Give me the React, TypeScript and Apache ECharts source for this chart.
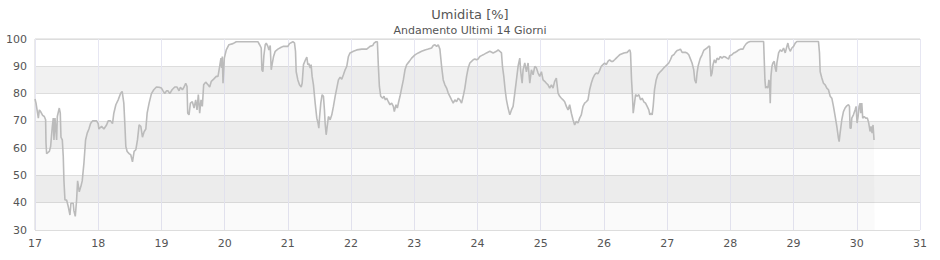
import React, { useEffect, useRef } from "react";
import * as echarts from "echarts";

const titleText = "Umidita [%]";
const subtitleText = "Andamento Ultimi 14 Giorni";
const xTicks = [17, 31];
const yTicks = [30, 100];

const days = [
  17.000, 17.016, 17.037, 17.053, 17.068, 17.089, 17.121, 17.147, 17.168, 17.174,
  17.184, 17.226, 17.247, 17.274, 17.289, 17.300, 17.316, 17.342, 17.353, 17.384,
  17.400, 17.411, 17.432, 17.447, 17.458, 17.474, 17.500, 17.526, 17.553, 17.568,
  17.605, 17.616, 17.637, 17.658, 17.674, 17.700, 17.726, 17.747, 17.774, 17.800,
  17.826, 17.853, 17.879, 17.911, 17.974, 18.000, 18.011, 18.053, 18.089, 18.132,
  18.158, 18.195, 18.226, 18.247, 18.279, 18.316, 18.353, 18.379, 18.405, 18.421,
  18.437, 18.458, 18.489, 18.516, 18.542, 18.568, 18.595, 18.621, 18.647, 18.674,
  18.700, 18.726, 18.753, 18.774, 18.805, 18.842, 18.879, 18.921, 18.963, 19.000,
  19.026, 19.053, 19.079, 19.105, 19.132, 19.168, 19.211, 19.247, 19.279, 19.300,
  19.332, 19.358, 19.384, 19.405, 19.416, 19.437, 19.458, 19.489, 19.516, 19.542,
  19.563, 19.584, 19.605, 19.626, 19.647, 19.668, 19.700, 19.737, 19.763, 19.789,
  19.826, 19.868, 19.895, 19.921, 19.942, 19.953, 19.963, 19.974, 19.995, 20.026,
  20.068, 20.132, 20.184, 20.526, 20.553, 20.579, 20.589, 20.605, 20.621, 20.642,
  20.658, 20.684, 20.700, 20.721, 20.737, 20.753, 20.774, 20.800, 20.842, 20.895,
  20.932, 21.000, 21.026, 21.079, 21.105, 21.121, 21.132, 21.158, 21.184, 21.211,
  21.226, 21.247, 21.279, 21.300, 21.316, 21.332, 21.353, 21.368, 21.384, 21.405,
  21.432, 21.458, 21.479, 21.490, 21.500, 21.521, 21.542, 21.563, 21.579, 21.590,
  21.606, 21.616, 21.642, 21.669, 21.695, 21.721, 21.748, 21.774, 21.800, 21.827,
  21.853, 21.879, 21.906, 21.932, 21.958, 21.984, 22.037, 22.090, 22.169, 22.248,
  22.300, 22.342, 22.363, 22.395, 22.416, 22.432, 22.448, 22.469, 22.500, 22.521,
  22.542, 22.563, 22.590, 22.616, 22.642, 22.669, 22.684, 22.711, 22.732, 22.753,
  22.774, 22.800, 22.827, 22.853, 22.879, 22.921, 22.958, 23.011, 23.063, 23.116,
  23.169, 23.221, 23.274, 23.300, 23.327, 23.353, 23.379, 23.405, 23.432, 23.458,
  23.484, 23.511, 23.537, 23.563, 23.590, 23.616, 23.642, 23.669, 23.695, 23.721,
  23.748, 23.774, 23.800, 23.827, 23.853, 23.879, 23.906, 23.932, 23.958, 23.984,
  24.011, 24.037, 24.063, 24.090, 24.142, 24.195, 24.248, 24.300, 24.327, 24.353,
  24.379, 24.395, 24.416, 24.437, 24.458, 24.484, 24.511, 24.537, 24.563, 24.590,
  24.616, 24.642, 24.669, 24.684, 24.706, 24.721, 24.748, 24.774, 24.800, 24.827,
  24.853, 24.879, 24.906, 24.932, 24.958, 24.984, 25.011, 25.037, 25.063, 25.090,
  25.116, 25.142, 25.169, 25.195, 25.221, 25.247, 25.274, 25.300, 25.327, 25.353,
  25.379, 25.406, 25.432, 25.458, 25.485, 25.511, 25.537, 25.563, 25.590, 25.616,
  25.642, 25.669, 25.695, 25.721, 25.748, 25.774, 25.800, 25.827, 25.853, 25.879,
  25.906, 25.932, 25.958, 25.985, 26.011, 26.037, 26.064, 26.090, 26.116, 26.142,
  26.169, 26.195, 26.221, 26.248, 26.316, 26.368, 26.395, 26.410, 26.421, 26.437,
  26.452, 26.463, 26.484, 26.500, 26.526, 26.552, 26.579, 26.605, 26.631, 26.658,
  26.684, 26.710, 26.726, 26.747, 26.763, 26.779, 26.800, 26.826, 26.852, 26.884,
  26.921, 26.947, 26.973, 27.000, 27.026, 27.052, 27.079, 27.105, 27.131, 27.158,
  27.184, 27.210, 27.237, 27.263, 27.289, 27.315, 27.342, 27.368, 27.394, 27.421,
  27.437, 27.458, 27.473, 27.489, 27.510, 27.526, 27.552, 27.579, 27.605, 27.631,
  27.658, 27.673, 27.684, 27.694, 27.710, 27.726, 27.747, 27.768, 27.789, 27.815,
  27.842, 27.868, 27.894, 27.921, 27.947, 27.973, 27.989, 28.026, 28.052, 28.079,
  28.105, 28.131, 28.168, 28.200, 28.221, 28.252, 28.279, 28.315, 28.526, 28.536,
  28.547, 28.558, 28.579, 28.594, 28.610, 28.621, 28.631, 28.642, 28.658, 28.673,
  28.694, 28.710, 28.726, 28.736, 28.763, 28.789, 28.815, 28.842, 28.868, 28.894,
  28.910, 28.926, 28.947, 28.973, 29.000, 29.026, 29.052, 29.394, 29.410, 29.421,
  29.447, 29.473, 29.500, 29.526, 29.552, 29.579, 29.605, 29.631, 29.658, 29.684,
  29.710, 29.721, 29.736, 29.763, 29.789, 29.815, 29.842, 29.868, 29.884, 29.894,
  29.910, 29.921, 29.947, 29.973, 29.989, 30.005, 30.021, 30.036, 30.052, 30.063,
  30.079, 30.094, 30.115, 30.142, 30.168, 30.189, 30.210, 30.226, 30.242, 30.257,
  30.273, 30.284,
];

const humidity = [
  78, 76.5, 73.4, 71, 74, 73.4, 72, 71.6, 70.4, 62,
  58, 58.8, 60.6, 68, 71, 63, 71, 63, 71.6, 74.7,
  72.8, 64, 63, 57, 48, 41, 41, 38.6, 35.5, 39.8,
  39.8, 37, 35, 41, 48, 44, 46, 48, 54.5, 63,
  65.5, 67, 69, 70, 70, 69, 67, 68, 67, 68.5,
  70, 70, 69, 72.8, 75.9, 77.7, 80, 80.8, 76.5, 69,
  60.6, 58.8, 58, 57.5, 55, 58.8, 59.4, 63, 68.5, 68,
  64, 66, 67, 72.8, 76.5, 80, 81.4, 82.4, 82.3, 82,
  81, 80, 81, 81, 80, 81.4, 82.4, 82.4, 81, 82.3,
  81.4, 82.4, 83.8, 82.6, 72.8, 72.2, 76.5, 77, 74.7, 77.7,
  74, 79.6, 72.8, 77.7, 75.3, 83.2, 84.2, 83.2, 82.4, 84.5,
  85.3, 86.3, 86.3, 90, 93, 89.4, 93.6, 83.8, 93, 96,
  97.9, 98.3, 99, 99, 97.9, 96.7, 88.7, 88, 94, 97.9,
  98.5, 97.3, 96, 97.6, 88.7, 91, 93.6, 95.5, 96.3, 97,
  97.3, 97.3, 98.3, 99, 98.6, 95.5, 88, 85, 83.2, 82.4,
  83.8, 90.6, 92.4, 93.4, 90.6, 91, 89.4, 90.6, 86.3, 83.2,
  76.5, 71, 69, 67.3, 71, 76.5, 79.6, 79, 74, 69,
  64.9, 66.7, 71.6, 70.4, 72.2, 75.3, 79, 82, 85, 86,
  85.3, 86.9, 88.7, 90, 93.6, 94.9, 95.5, 96, 96.3, 96.3,
  97.3, 97.6, 98.5, 99, 99, 90, 82.6, 79, 78.3, 79,
  77.7, 78.3, 77, 75.9, 76.5, 75.3, 73.4, 75.9, 74.7, 77,
  79, 82, 85, 88.7, 90.6, 91.8, 93, 94.2, 94.9, 95.5,
  96, 96.3, 96.7, 97.6, 97.9, 97.3, 97.9, 96.3, 90, 85,
  83.2, 82, 80.2, 79, 77.7, 76.5, 77.7, 77, 78.3, 77.7,
  76.5, 79, 82, 86.3, 89.4, 91.2, 91.8, 92.4, 92.7, 92.4,
  92.7, 93.6, 93.9, 94.2, 94.9, 95.5, 94.9, 95.5, 96, 95.5,
  94.9, 90, 86.3, 81.4, 77.7, 74.7, 72.2, 74, 75.3, 80.2,
  85, 90, 93, 88, 83.8, 88.7, 91.2, 88, 91.2, 83.8,
  88.7, 86.9, 90, 89.4, 87.5, 86.3, 88, 85, 84.5, 83.8,
  83.2, 82, 83.2, 82, 84.5, 85.7, 80.2, 79, 78.3, 77.7,
  77, 75.3, 74, 75.9, 72.8, 70.4, 68.5, 69.8, 69.2, 71,
  72.2, 75.3, 76.5, 77, 77.7, 81.4, 83.8, 85.7, 86.9, 87.5,
  87.3, 88.5, 90, 90.6, 91.2, 90.6, 91.8, 92.4, 91.8, 91.8,
  92.4, 93, 93.6, 94.2, 94.9, 95.1, 95.8, 96, 94.9, 85,
  79, 72.8, 76.5, 79.6, 79, 79.6, 77.7, 78.3, 77, 76.5,
  75.3, 74, 72.2, 72.8, 72.2, 75.3, 81.4, 85, 86.9, 87.8,
  88.7, 89.4, 90, 90.6, 91.2, 92.4, 93.9, 94.2, 95.1, 95.8,
  96, 96.3, 95.1, 95.1, 95.1, 94.9, 94.2, 92.7, 91.2, 88.7,
  85, 83.8, 87.5, 90, 91.8, 93, 94.2, 95.8, 96.3, 96.7,
  97.3, 97.3, 90, 86.3, 87.5, 90.6, 92.4, 91.2, 93, 92.4,
  93.6, 93, 93.6, 93.4, 93, 92.7, 93.9, 94.2, 94.9, 95.1,
  95.5, 96, 96.3, 96.3, 97.3, 98.3, 98.8, 99.1, 99.1, 92.4,
  85, 82, 82.6, 82, 85, 83.8, 76.5, 86.3, 90, 91.2,
  91.8, 89.4, 88, 91.2, 94.9, 96, 95.5, 96.7, 94.9, 97.3,
  98.5, 96.7, 95.5, 96.7, 97.3, 98.5, 99.1, 99.1, 94.9, 88,
  85.7, 83.8, 83.2, 82, 81.4, 79, 78.3, 75.3, 71.6, 68,
  63.6, 62.4, 65.5, 70.4, 73.4, 74.7, 75.5, 75.9, 75.3, 67.3,
  67.3, 71, 72.2, 74, 75.3, 69.2, 71.6, 75.3, 76.5, 72.8,
  76.5, 71, 71.6, 71, 71, 69.2, 66.1, 68, 65.5, 68.5,
  63, 63,
];

export default function App() {
  const ref = useRef<HTMLDivElement>(null);
  useEffect(() => {
    const chart = echarts.init(ref.current!, null, { renderer: "svg" });
    const data = days.map((d, i) => [d, humidity[i]]);
    const font = "DejaVu Sans";
    chart.setOption({
      animation: false,
      backgroundColor: "#ffffff",
      title: {
        text: titleText,
        subtext: subtitleText,
        left: "center",
        top: 3,
        itemGap: 4,
        textStyle: { fontFamily: font, fontSize: 13, fontWeight: "normal", color: "#555555" },
        subtextStyle: { fontFamily: font, fontSize: 11, color: "#555555" },
      },
      grid: {
        left: 35,
        right: 20,
        top: 39,
        bottom: 30,
        show: true,
        borderColor: "#d4d4d4",
        borderWidth: 1,
        backgroundColor: "transparent",
      },
      xAxis: {
        type: "value",
        min: xTicks[0],
        max: xTicks[1],
        interval: 1,
        axisLine: { show: false },
        axisTick: { show: false },
        axisLabel: { fontFamily: font, fontSize: 11, color: "#555555", margin: 8 },
        splitLine: { show: true, lineStyle: { color: "#e6e6f2", width: 1 } },
      },
      yAxis: {
        type: "value",
        min: yTicks[0],
        max: yTicks[1],
        interval: 10,
        axisLine: { show: false },
        axisTick: { show: false },
        axisLabel: { fontFamily: font, fontSize: 11, color: "#555555", margin: 8 },
        splitLine: { show: true, lineStyle: { color: "#dddddd", width: 1 } },
        splitArea: { show: true, areaStyle: { color: ["#ffffff", "#f1f1f1"] } },
      },
      series: [
        {
          type: "line",
          data,
          showSymbol: false,
          symbol: "none",
          lineStyle: { color: "#bbbbbb", width: 1.6 },
          areaStyle: { color: "rgba(0,0,0,0.03)", origin: "start" },
          z: 3,
        },
      ],
    });
    return () => chart.dispose();
  }, []);
  return (
    <div
      ref={ref}
      style={{ position: "fixed", left: 0, top: 0, width: 940, height: 260 }}
    />
  );
}
